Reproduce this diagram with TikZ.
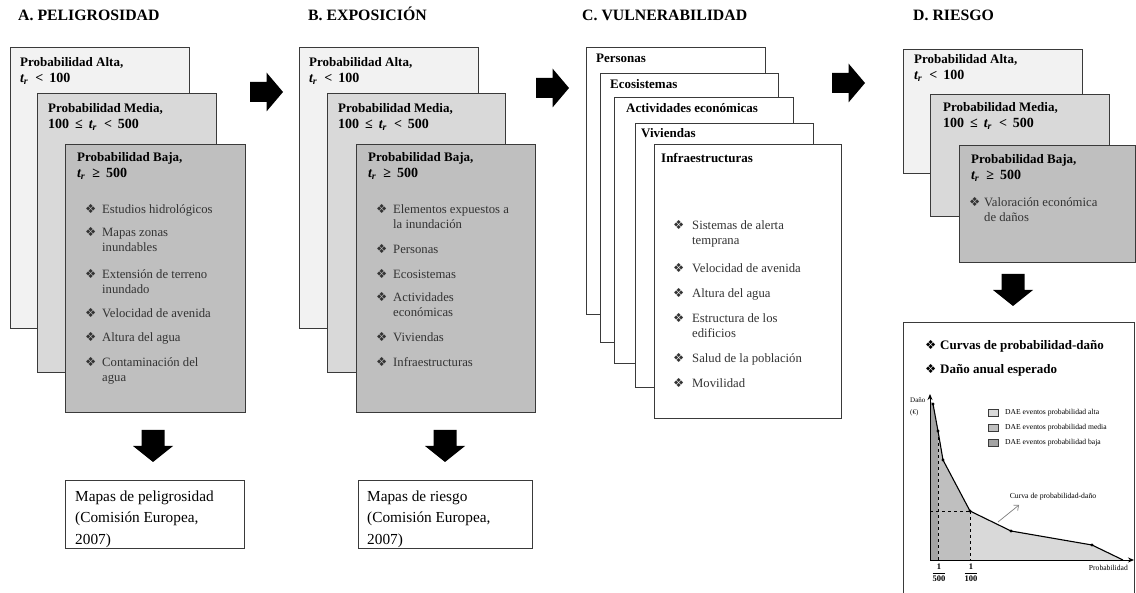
\documentclass[tikz,border=0pt]{standalone}
\usepackage{fontspec}
\setmainfont{Liberation Serif}
\newfontfamily\dingfont{DejaVu Sans}
\usetikzlibrary{arrows.meta}
\definecolor{altaC}{HTML}{F2F2F2}
\definecolor{mediaC}{HTML}{D9D9D9}
\definecolor{bajaC}{HTML}{BFBFBF}
\definecolor{darkC}{HTML}{A3A3A3}
\definecolor{edgeC}{HTML}{3A3A3A}
\definecolor{itemC}{HTML}{333333}
\newcommand{\bul}[1][17pt]{\strut\makebox[#1][l]{\dingfont\fontsize{12.5}{10}\selectfont\raisebox{-0.5pt}{\char"2756}}}
\newcommand{\tr}{\textit{t}\textsubscript{\kern-0.5pt\textit{r}}}
\newcommand{\rlt}{\hspace{7pt}<\hspace{6pt}}
\newcommand{\rle}{\hspace{6pt}≤\hspace{6pt}}
\newcommand{\rge}{\hspace{7pt}≥\hspace{6pt}}
\newcommand{\mline}[1]{{\fontsize{14}{16}\selectfont #1}}
\begin{document}
\begin{tikzpicture}[x=1pt,y=-1pt,
  card/.style={draw=edgeC, line width=0.9pt, anchor=north west, inner sep=0},
  hdr/.style={anchor=north west, inner sep=0, align=left, font=\fontsize{13}{16}\selectfont\bfseries},
  itm/.style={anchor=north west, inner sep=0, align=left, text=itemC, font=\fontsize{12.7}{15.5}\selectfont},
  ttl/.style={anchor=base west, inner sep=0, font=\fontsize{15.8}{18}\selectfont\bfseries},
  res/.style={anchor=north west, inner sep=0, align=left, font=\fontsize{15.3}{21.5}\selectfont},
  small/.style={inner sep=0, font=\fontsize{7.6}{9}\selectfont},
  lg/.style={draw=edgeC, line width=0.6pt, minimum width=10, minimum height=7, inner sep=0},
  rblock/.pic={\fill[black] (-16.5,-10) -- (0,-10) -- (0,-19.5) -- (16.5,0) -- (0,19.5) -- (0,10) -- (-16.5,10) -- cycle;},
  dblock/.pic={\fill[black] (-11.5,0) -- (11.5,0) -- (11.5,16) -- (20,16) -- (0,32) -- (-20,16) -- (-11.5,16) -- cycle;}
]
\useasboundingbox (0,0) rectangle (1136,593);

% ---------- A ----------
\node[ttl] (tA) at (18,21) {A. PELIGROSIDAD};
\node[card, fill=altaC, minimum width=179, minimum height=281] (aAlta) at (10,47) {};
\node[card, fill=mediaC, minimum width=179, minimum height=279] (aMedia) at (37,93) {};
\node[card, fill=bajaC, minimum width=180, minimum height=268] (aBaja) at (65,144) {};
\node[hdr] (aAltaT) at (20,55) {\strut Probabilidad Alta,\\\mline{\tr\rlt100}};
\node[hdr] (aMediaT) at (48,101) {\strut Probabilidad Media,\\\mline{100\rle\tr\rlt500}};
\node[hdr] (aBajaT) at (77,150) {\strut Probabilidad Baja,\\\mline{\tr\rge500}};
\node[itm] (a1) at (85,202) {\bul Estudios hidrológicos};
\node[itm] (a2) at (85,225) {\bul Mapas zonas\\\hspace*{17pt}inundables};
\node[itm] (a3) at (85,267) {\bul Extensión de terreno\\\hspace*{17pt}inundado};
\node[itm] (a4) at (85,306) {\bul Velocidad de avenida};
\node[itm] (a5) at (85,330) {\bul Altura del agua};
\node[itm] (a6) at (85,355) {\bul Contaminación del\\\hspace*{17pt}agua};
\pic (dA) at (153,430) {dblock};
\node[card, fill=white, minimum width=179, minimum height=68] (aRes) at (65,480) {};
\node[res] (aResT) at (75,486) {\strut Mapas de peligrosidad\\(Comisión Europea,\\2007)};
\pic (rAB) at (266.5,92) {rblock};

% ---------- B ----------
\node[ttl] (tB) at (308,21) {B. EXPOSICIÓN};
\node[card, fill=altaC, minimum width=179, minimum height=281] (bAlta) at (299,47) {};
\node[card, fill=mediaC, minimum width=178, minimum height=279] (bMedia) at (327,93) {};
\node[card, fill=bajaC, minimum width=179, minimum height=268] (bBaja) at (356,144) {};
\node[hdr] (bAltaT) at (309,55) {\strut Probabilidad Alta,\\\mline{\tr\rlt100}};
\node[hdr] (bMediaT) at (338,101) {\strut Probabilidad Media,\\\mline{100\rle\tr\rlt500}};
\node[hdr] (bBajaT) at (368,150) {\strut Probabilidad Baja,\\\mline{\tr\rge500}};
\node[itm] (b1) at (376,202) {\bul Elementos expuestos a\\\hspace*{17pt}la inundación};
\node[itm] (b2) at (376,242) {\bul Personas};
\node[itm] (b3) at (376,267) {\bul Ecosistemas};
\node[itm] (b4) at (376,290) {\bul Actividades\\\hspace*{17pt}económicas};
\node[itm] (b5) at (376,330) {\bul Viviendas};
\node[itm] (b6) at (376,355) {\bul Infraestructuras};
\pic (dB) at (445,430) {dblock};
\node[card, fill=white, minimum width=174, minimum height=68] (bRes) at (358,480) {};
\node[res] (bResT) at (367,486) {\strut Mapas de riesgo\\(Comisión Europea,\\2007)};
\pic (rBC) at (552.5,88) {rblock};

% ---------- C ----------
\node[ttl] (tC) at (582,21) {C. VULNERABILIDAD};
\node[card, fill=white, minimum width=179, minimum height=267] (cP) at (586,47) {};
\node[card, fill=white, minimum width=178, minimum height=269] (cE) at (600,73) {};
\node[card, fill=white, minimum width=179, minimum height=266] (cA) at (614,97) {};
\node[card, fill=white, minimum width=178, minimum height=264] (cV) at (635,123) {};
\node[card, fill=white, minimum width=187, minimum height=274] (cI) at (654,144) {};
\node[hdr] (cPT) at (596,51) {\strut Personas};
\node[hdr] (cET) at (610,77) {\strut Ecosistemas};
\node[hdr] (cAT) at (626,101) {\strut Actividades económicas};
\node[hdr] (cVT) at (641,126) {\strut Viviendas};
\node[hdr] (cIT) at (661,151) {\strut Infraestructuras};
\node[itm] (c1) at (673,218) {\bul[19pt]Sistemas de alerta\\\hspace*{19pt}temprana};
\node[itm] (c2) at (673,261) {\bul[19pt]Velocidad de avenida};
\node[itm] (c3) at (673,286) {\bul[19pt]Altura del agua};
\node[itm] (c4) at (673,311) {\bul[19pt]Estructura de los\\\hspace*{19pt}edificios};
\node[itm] (c5) at (673,351) {\bul[19pt]Salud de la población};
\node[itm] (c6) at (673,376) {\bul[19pt]Movilidad};
\pic (rCD) at (848.5,83) {rblock};

% ---------- D ----------
\node[ttl] (tD) at (913,21) {D. RIESGO};
\node[card, fill=altaC, minimum width=179, minimum height=124] (dAlta) at (903,49) {};
\node[card, fill=mediaC, minimum width=179, minimum height=122] (dMedia) at (930,94) {};
\node[card, fill=bajaC, minimum width=176, minimum height=117] (dBaja) at (959,145) {};
\node[hdr] (dAltaT) at (914,52) {\strut Probabilidad Alta,\\\mline{\tr\rlt100}};
\node[hdr] (dMediaT) at (943,100) {\strut Probabilidad Media,\\\mline{100\rle\tr\rlt500}};
\node[hdr] (dBajaT) at (971,152) {\strut Probabilidad Baja,\\\mline{\tr\rge500}};
\node[itm] (d1) at (969,195) {\bul[15pt]Valoración económica\\\hspace*{15pt}de daños};
\pic (dD) at (1013,274) {dblock};

% ---------- chart ----------
\node[card, fill=white, minimum width=231, minimum height=290] (chart) at (903,322) {};
\node[hdr] (ch1) at (925,338) {\bul[15pt]Curvas de probabilidad-daño};
\node[hdr] (ch2) at (925,362) {\bul[15pt]Daño anual esperado};

\coordinate (O) at (930,560);
\coordinate (Ytop) at (930,394);
\coordinate (Xend) at (1134,560);
\coordinate (p1) at (933,404);
\coordinate (p2) at (938,431);
\coordinate (p3) at (943,460);
\coordinate (p4) at (970,511);
\coordinate (p5) at (1011,531);
\coordinate (p6) at (1092,545);
\coordinate (p7) at (1123,560);
\coordinate (q2) at (938,560);
\coordinate (q4) at (970,560);
\coordinate (h4) at (930,511);

\fill[darkC] (O) -- (930,401) -- (p1) -- (p2) -- (q2) -- cycle;
\fill[bajaC] (q2) -- (p2) -- (p3) -- (p4) -- (q4) -- cycle;
\fill[mediaC] (q4) -- (p4) -- (p5) -- (p6) -- (p7) -- cycle;
\draw[dashed, line width=0.8pt] (p2) -- (q2);
\draw[dashed, line width=0.8pt] (p4) -- (q4);
\draw[dashed, line width=0.8pt] (h4) -- (p4);
\draw[line width=1.1pt] (p1) -- (p2) -- (p3) -- (p4) -- (p5) -- (p6) -- (p7);
\foreach \p in {p1,p2,p3,p4,p5,p6} \fill (\p) circle (1.7);
\draw[line width=0.9pt, -{Stealth[length=6pt,width=5pt]}] (O) -- (Ytop);
\draw[line width=0.9pt, -{Stealth[length=6pt,width=5pt]}] (O) -- (Xend);

\node[small, anchor=west, align=left, font=\fontsize{7}{12}\selectfont] (yl) at (910,407) {Daño\\(€)};
\node[small, anchor=east] (xl) at (1128,568) {Probabilidad};
\node[small, font=\fontsize{8.5}{10}\selectfont] (f500) at (939,573) {$\displaystyle\frac{\mathbf{1}}{\mathbf{500}}$};
\node[small, font=\fontsize{8.5}{10}\selectfont] (f100) at (971,573) {$\displaystyle\frac{\mathbf{1}}{\mathbf{100}}$};

\node[lg, fill=mediaC] (lg1) at (993,413) {};
\node[lg, fill=bajaC] (lg2) at (993,428) {};
\node[lg, fill=darkC] (lg3) at (993,443) {};
\node[small, anchor=west] (lt1) at (1005,413) {DAE eventos probabilidad alta};
\node[small, anchor=west] (lt2) at (1005,428) {DAE eventos probabilidad media};
\node[small, anchor=west] (lt3) at (1005,443) {DAE eventos probabilidad baja};

\node[small, font=\fontsize{7.7}{9}\selectfont] (cv) at (1053,497) {Curva de probabilidad-daño};
\coordinate (cvs) at (998,522);
\coordinate (cve) at (1019,505);
\draw[gray, line width=0.7pt, -{Straight Barb[length=4pt,width=7pt]}] (cvs) -- (cve);
\end{tikzpicture}
\end{document}
